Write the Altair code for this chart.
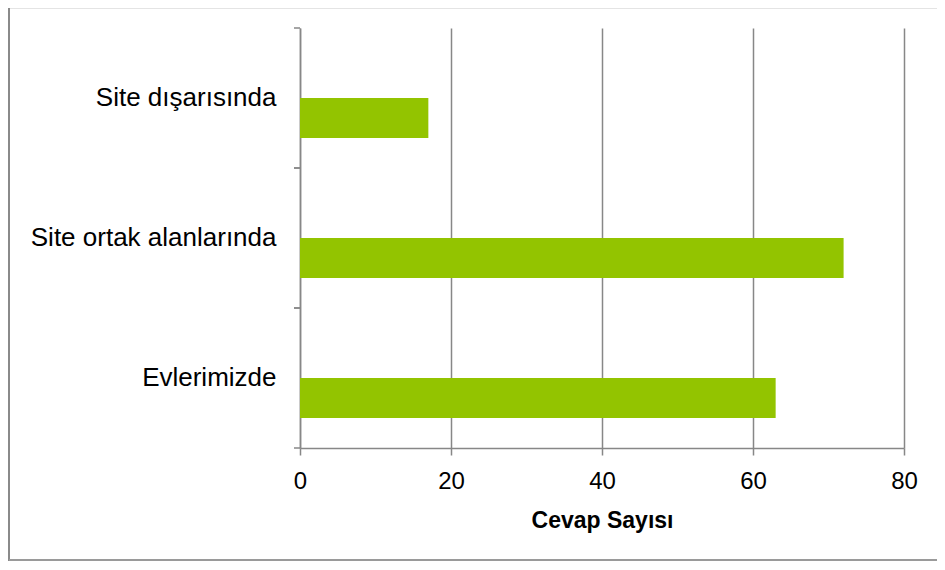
import altair as alt
import pandas as pd

categories = ["Site dışarısında", "Site ortak alanlarında", "Evlerimizde"]
values = [17, 72, 63]
x_ticks = [0, 20, 40, 60, 80]

df = pd.DataFrame({"kategori": categories, "cevap": values})
one = pd.DataFrame({"k": [0]})

W, H = 604, 420
GRAY = "#878787"
FONT = "Liberation Sans"


def y_enc(bp=None):
    kw = {}
    if bp is not None:
        kw["bandPosition"] = bp
    return alt.Y(
        "kategori:N",
        sort=categories,
        scale=alt.Scale(paddingInner=0, paddingOuter=0),
        axis=alt.Axis(
            title=None, ticks=False, domain=True, domainColor=GRAY, domainWidth=1.5,
            labelFont=FONT, labelFontSize=26, labelColor="black", labelPadding=24,
            grid=False, labelLimit=400,
        ),
        **kw,
    )


bars = alt.Chart(df).mark_bar(height=40, yOffset=20, color="#93C400").encode(
    x=alt.X(
        "cevap:Q",
        scale=alt.Scale(domain=[0, 80], nice=False),
        axis=alt.Axis(
            values=x_ticks, title="Cevap Sayısı", grid=True, gridColor=GRAY, gridWidth=1.5,
            domainColor=GRAY, domainWidth=1.5, tickColor=GRAY, tickSize=7, tickWidth=1.5,
            labelFont=FONT, labelFontSize=24, labelColor="black", labelPadding=14,
            labelFlush=False,
            titleFont=FONT, titleFontSize=23, titleFontWeight="bold", titleColor="black",
            titlePadding=16,
        ),
    ),
    y=y_enc(),
)

ticks_start = alt.Chart(df).mark_rule(color=GRAY, strokeWidth=1.5).encode(
    y=y_enc(0), x=alt.value(-6), x2=alt.value(0)
)
ticks_end = alt.Chart(df).mark_rule(color=GRAY, strokeWidth=1.5).encode(
    y=y_enc(1), x=alt.value(-6), x2=alt.value(0)
)

frame_left = alt.Chart(one).mark_rule(color="#8a8a8a", strokeWidth=2).encode(
    x=alt.value(-291), y=alt.value(-20), y2=alt.value(533)
)
frame_bottom = alt.Chart(one).mark_rule(color="#9a9a9a", strokeWidth=2).encode(
    x=alt.value(-291), x2=alt.value(640), y=alt.value(532)
)
frame_top = alt.Chart(one).mark_rule(color="#e4e4e4", strokeWidth=1).encode(
    x=alt.value(-291), x2=alt.value(640), y=alt.value(-19.5)
)

chart = alt.layer(frame_top, frame_left, frame_bottom, bars, ticks_start, ticks_end).properties(
    width=W,
    height=H,
    padding={"left": 292, "top": 20, "right": 33, "bottom": 114},
    autosize=alt.AutoSizeParams(type="none"),
    background="white",
).configure_view(stroke=None)

chart.save("out.html", embed_options={"renderer": "svg", "actions": False})
